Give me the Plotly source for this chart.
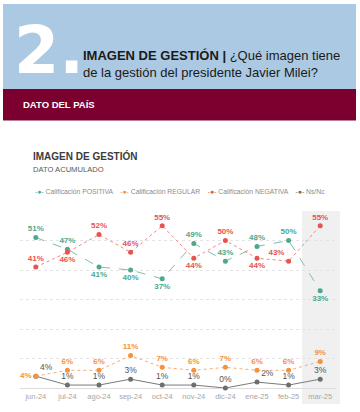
import plotly.graph_objects as go

months = ["jun-24", "jul-24", "ago-24", "sep-24", "oct-24", "nov-24", "dic-24", "ene-25", "feb-25", "mar-25"]
positiva = [51, 47, 41, 40, 37, 49, 43, 48, 50, 33]
regular = [4, 6, 6, 11, 7, 6, 7, 6, 6, 9]
negativa = [41, 46, 52, 46, 55, 44, 50, 44, 43, 55]
nsnc = [4, 1, 1, 3, 1, 1, 0, 2, 1, 3]

pos_tp = ["top center", "top center", "bottom center", "bottom center", "bottom center",
          "top center", "top center", "top center", "top center", "bottom center"]
neg_tp = ["top center", "bottom center", "top center", "top center", "top center",
          "bottom center", "top center", "bottom center", "top left", "top center"]
reg_tp = ["middle left"] + ["top center"] * 9
ns_tp = ["top right"] + ["top center"] * 6 + ["top right", "top center", "top center"]

GREEN = "#4fa88d"
RED = "#e8534f"
ORANGE = "#f5923b"
GREY = "#6e6e6e"
GREEN_L = "#7cbfaa"
RED_L = "#ef8583"
ORANGE_L = "#f8ad6c"

W, H = 360, 412
ML, MR, MT, MB = 20, 24, 211, 24
PW, PH = W - ML - MR, H - MT - MB


def px(x):
    return (x - ML) / PW


def py(y):
    return (H - MB - y) / PH


fig = go.Figure()


def add(vals, name, color, lcolor, dash, tp, tcolor, bold=True, tsize=8):
    fig.add_trace(go.Scatter(
        x=months, y=vals, name=name, mode="lines+markers+text",
        line=dict(color=lcolor, width=1, dash=dash),
        marker=dict(color=color, size=5),
        text=[f"<b>{v}%</b>" if bold else f"{v}%" for v in vals],
        textposition=tp,
        textfont=dict(color=tcolor, size=tsize, family="Liberation Sans"),
        cliponaxis=False, showlegend=False,
    ))


add(nsnc, "Ns/Nc", GREY, "#7a7a7a", "solid", ns_tp, "#555555", bold=False, tsize=8.5)
add(regular, "Calificación REGULAR", ORANGE, ORANGE_L, "dot", reg_tp, ORANGE)
add(positiva, "Calificación POSITIVA", GREEN, GREEN_L, "dash", pos_tp, GREEN)
add(negativa, "Calificación NEGATIVA", RED, RED_L, "dot", neg_tp, RED)

shapes = [
    # header bands
    dict(type="rect", xref="paper", yref="paper", x0=px(3), x1=px(356), y0=py(89), y1=py(4),
         fillcolor="#abc9e2", line_width=0, layer="below"),
    dict(type="rect", xref="paper", yref="paper", x0=px(3), x1=px(356), y0=py(120.5), y1=py(89),
         fillcolor="#7b0030", line_width=0, layer="below"),
    # highlighted last month
    dict(type="rect", xref="paper", yref="paper", x0=px(302), x1=px(340), y0=py(404), y1=1.0,
         fillcolor="#f0f0f0", line_width=0, layer="below"),
]

legend_txt = (
    f"<span style='color:{GREEN}'>-●-</span> Calificación POSITIVA    "
    f"<span style='color:{ORANGE}'>-●-</span> Calificación REGULAR    "
    f"<span style='color:{RED}'>-●-</span> Calificación NEGATIVA    "
    f"<span style='color:{GREY}'>-●-</span> Ns/Nc"
)

annotations = [
    dict(text="<b>2.</b>", x=px(12), y=py(50), xanchor="left", yanchor="middle",
         font=dict(family="DejaVu Sans", size=65, color="white")),
    dict(text="<b>IMAGEN DE GESTIÓN |</b> ¿Qué imagen tiene<br>de la gestión del presidente Javier Milei?",
         x=px(81), y=py(63.5), xanchor="left", yanchor="middle", align="left",
         font=dict(family="Liberation Sans", size=13, color="#1a1a1a")),
    dict(text="<b>DATO DEL PAÍS</b>", x=px(21), y=py(104.7), xanchor="left", yanchor="middle",
         font=dict(family="Liberation Sans", size=9.5, color="white")),
    dict(text="<b>IMAGEN DE GESTIÓN</b>", x=px(31), y=py(155.5), xanchor="left", yanchor="middle",
         font=dict(family="Liberation Sans", size=10, color="#3b3b3b")),
    dict(text="DATO ACUMULADO", x=px(31), y=py(169), xanchor="left", yanchor="middle",
         font=dict(family="Liberation Sans", size=7.6, color="#595959")),
    dict(text=legend_txt, x=px(180), y=py(191.5), xanchor="center", yanchor="middle",
         font=dict(family="Liberation Sans", size=6.8, color="#8c8c8c")),
]
for a in annotations:
    a.update(xref="paper", yref="paper", showarrow=False)

fig.update_layout(
    width=W, height=H,
    margin=dict(l=ML, r=MR, t=MT, b=MB, pad=0),
    paper_bgcolor="white", plot_bgcolor="rgba(0,0,0,0)",
    shapes=shapes, annotations=annotations,
    xaxis=dict(range=[-0.5, 9.5], tickfont=dict(family="Liberation Sans", size=7.5, color="#a6a6a6"),
               showgrid=False, zeroline=False, showline=False, ticks="", ticklabelstandoff=2),
    yaxis=dict(range=[0, 60], dtick=10, showticklabels=False, showgrid=True,
               gridcolor="#e4e4e4", griddash="dot", gridwidth=1,
               zeroline=True, zerolinecolor="#dcdcdc", zerolinewidth=1),
)

fig.write_html("out.html")
